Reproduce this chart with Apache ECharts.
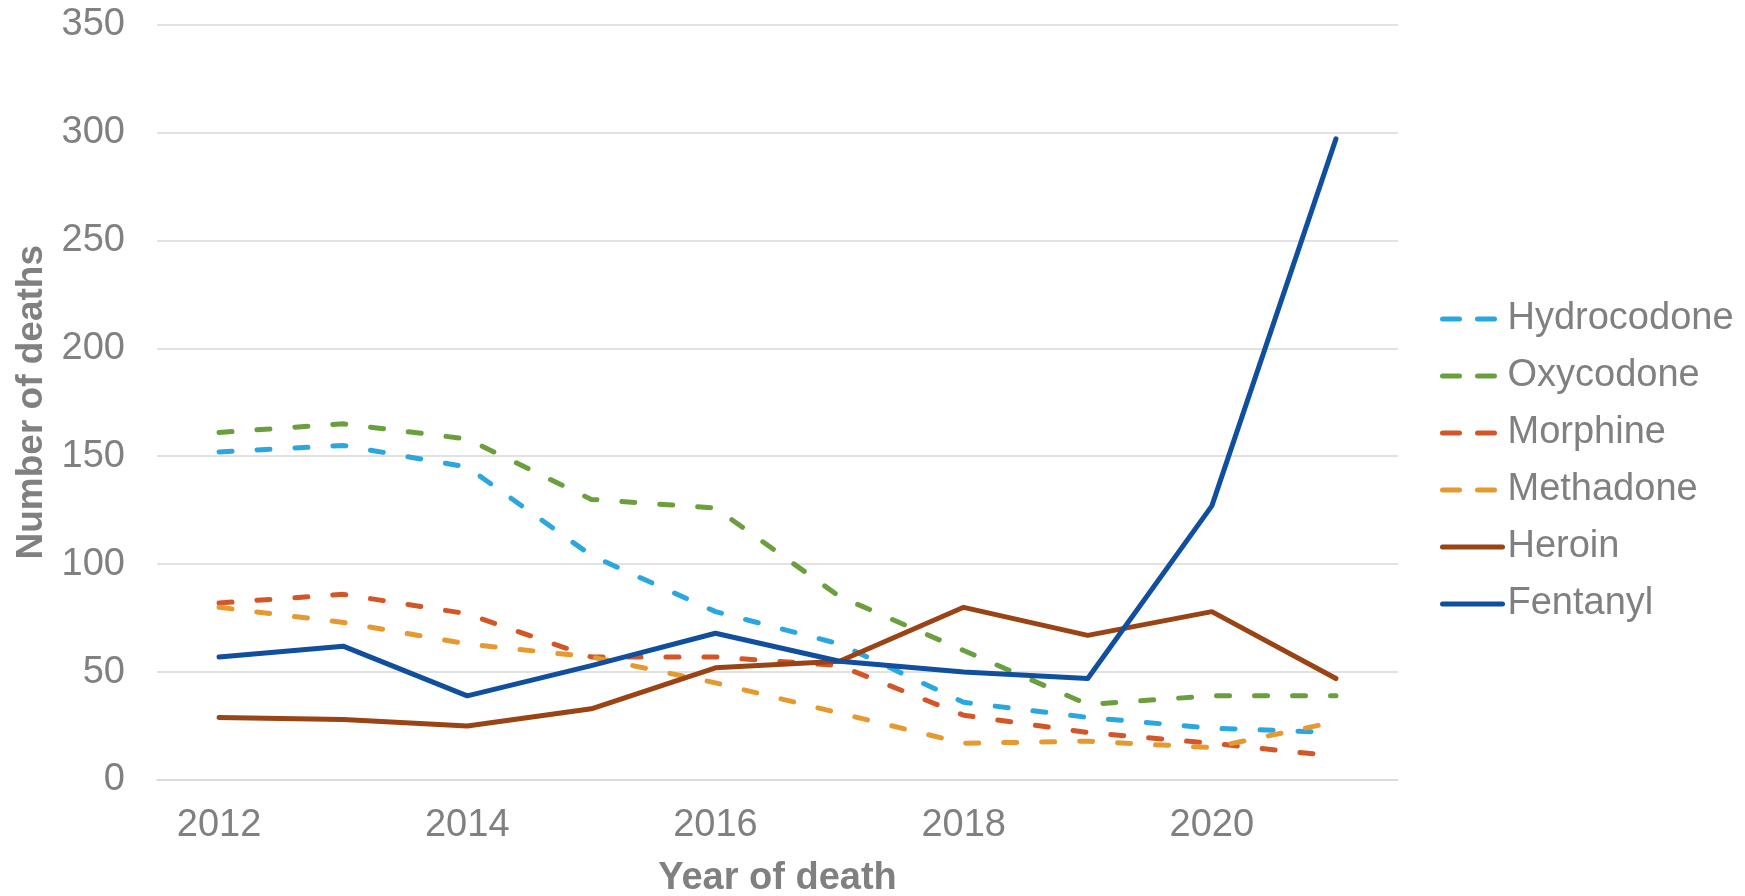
<!DOCTYPE html>
<html>
<head>
<meta charset="utf-8">
<script src="https://cdn.jsdelivr.net/npm/echarts@6/dist/echarts.min.js"></script>
<style>
  html, body { margin: 0; padding: 0; background: #fff; }
  #chart { width: 1745px; height: 896px; }
</style>
</head>
<body>
<div id="chart"></div>
<script>
// 年份
const years = ['2012', '2013', '2014', '2015', '2016', '2017', '2018', '2019', '2020', '2021']

// 各药物死亡人数
const hydrocodone = [152, 155, 145, 104, 78, 63, 36, 29, 24, 22]
const oxycodone = [161, 165, 158, 130, 126, 85, 60, 35, 39, 39]
const morphine = [82, 86, 77, 57, 57, 53, 30, 22, 17, 11]
const methadone = [80, 73, 63, 57, 45, 31, 17, 18, 15, 27]
const heroin = [29, 28, 25, 33, 52, 55, 80, 67, 78, 47]
const fentanyl = [57, 62, 39, 53, 68, 55, 50, 47, 127, 297]

const seriesNames = ['Hydrocodone', 'Oxycodone', 'Morphine', 'Methadone', 'Heroin', 'Fentanyl']
const seriesData = [hydrocodone, oxycodone, morphine, methadone, heroin, fentanyl]
const colors = ['#2aa7de', '#6b9f3e', '#d45627', '#e6992e', '#9a4415', '#0f4f9e']
const dashed = [true, true, true, true, false, false]

const font = '"Liberation Sans", Arial, sans-serif'
const gray = '#808080'

const chart = echarts.init(document.getElementById('chart'))

const series = seriesNames.map((name, i) => ({
  name,
  type: 'line',
  data: seriesData[i],
  symbol: 'none',
  smooth: false,
  color: colors[i],
  lineStyle: {
    width: 5,
    color: colors[i],
    type: dashed[i] ? [13, 25] : 'solid',
    cap: 'round',
    join: 'round'
  },
  emphasis: { disabled: true }
}))

const option = {
  animation: false,
  textStyle: { fontFamily: font },
  grid: {
    left: 157,
    right: 347,
    top: 24.5,
    bottom: 116,
    outerBoundsMode: 'none'
  },
  legend: {
    orient: 'vertical',
    left: 1435,
    top: 295,
    itemWidth: 60,
    itemHeight: 10,
    itemGap: 19,
    // 隐藏图例中间的圆点
    itemStyle: { opacity: 0 },
    data: seriesNames.map((name, i) => ({
      name,
      lineStyle: {
        width: 5,
        type: dashed[i] ? [17, 18] : 'solid',
        cap: 'round'
      }
    })),
    textStyle: {
      fontFamily: font,
      fontSize: 38,
      color: gray,
      lineHeight: 38
    }
  },
  xAxis: {
    type: 'category',
    data: years,
    boundaryGap: true,
    name: 'Year of death',
    nameLocation: 'middle',
    nameGap: 80,
    nameTextStyle: {
      fontFamily: font,
      fontSize: 38,
      fontWeight: 'bold',
      color: gray
    },
    axisLine: { show: true, lineStyle: { color: '#d9d9d9', width: 1.5 } },
    axisTick: { show: false },
    axisLabel: {
      interval: 1,
      margin: 27,
      fontFamily: font,
      fontSize: 38,
      color: gray
    }
  },
  yAxis: {
    type: 'value',
    min: 0,
    max: 350,
    interval: 50,
    name: 'Number of deaths',
    nameLocation: 'middle',
    nameGap: 104,
    nameRotate: 90,
    nameTextStyle: {
      fontFamily: font,
      fontSize: 37,
      fontWeight: 'bold',
      color: gray
    },
    axisLine: { show: false },
    axisTick: { show: false },
    axisLabel: {
      margin: 32,
      fontFamily: font,
      fontSize: 38,
      color: gray
    },
    splitLine: { lineStyle: { color: '#d9d9d9', width: 1.5 } }
  },
  series
}

chart.setOption(option)

window.addEventListener('resize', () => {
  chart.resize()
})
</script>
</body>
</html>
